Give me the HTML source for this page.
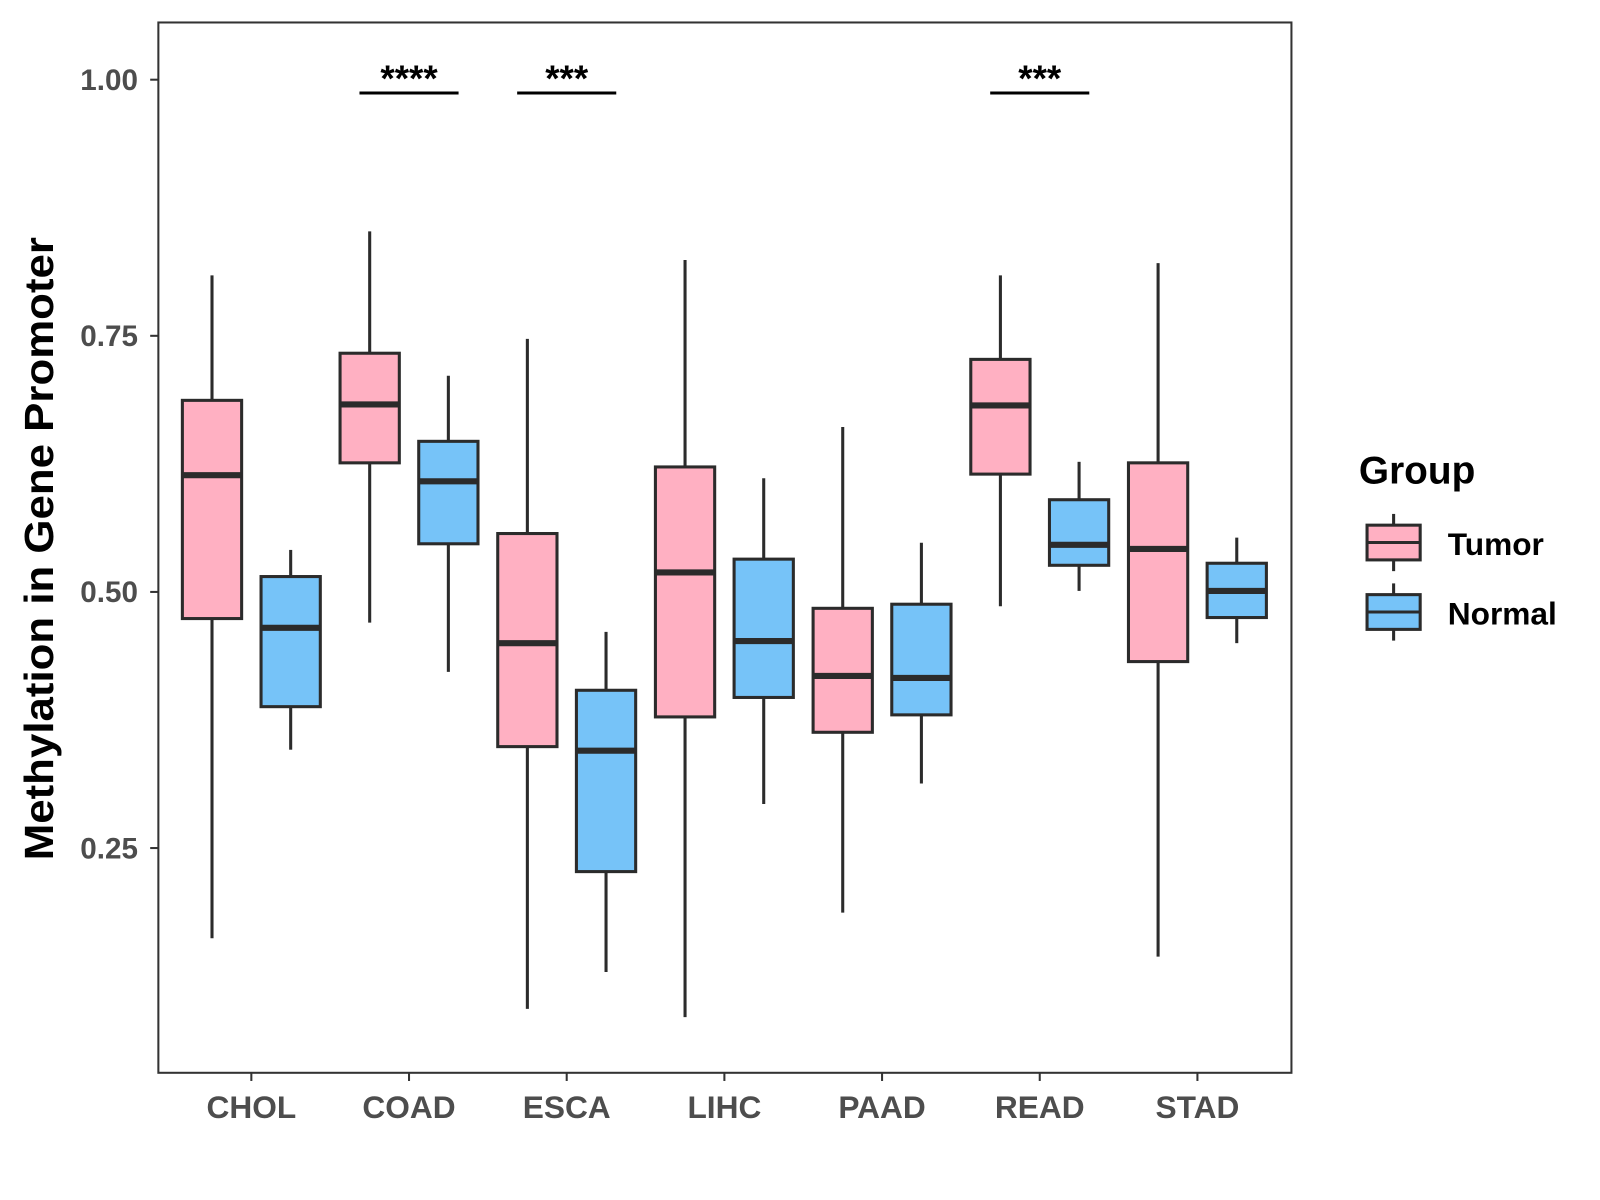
<!DOCTYPE html>
<html><head><meta charset="utf-8">
<style>
body{margin:0;background:#fff;}
svg{display:block;font-family:"Liberation Sans",sans-serif;}
</style></head>
<body>
<svg id="chart" width="1600" height="1200" viewBox="0 0 1566 1174.5">
<rect x="0" y="0" width="1566" height="1175" fill="#fff"/>
<g id="marks"></g>
<rect x="155" y="22" width="1109" height="1028" fill="none" stroke="#333" stroke-width="2"/>
<g id="axes"></g>
<text x="52" y="537" transform="rotate(-90 52 537)" text-anchor="middle" font-size="40" font-weight="bold" fill="#000" textLength="610" lengthAdjust="spacingAndGlyphs">Methylation in Gene Promoter</text>
<g>
<text x="1330" y="473" font-size="38" font-weight="bold" fill="#000">Group</text>
<g>
<line x1="1364" y1="503" x2="1364" y2="559" stroke="#2b2b2b" stroke-width="3"/>
<rect x="1338" y="514" width="52" height="34" fill="#ffb0c2" stroke="#2b2b2b" stroke-width="3"/>
<line x1="1338" y1="531" x2="1390" y2="531" stroke="#2b2b2b" stroke-width="3"/>
<text x="1417" y="543" font-size="31" font-weight="bold" fill="#000">Tumor</text>
</g>
<g>
<line x1="1364" y1="571" x2="1364" y2="627" stroke="#2b2b2b" stroke-width="3"/>
<rect x="1338" y="582" width="52" height="34" fill="#76c3f8" stroke="#2b2b2b" stroke-width="3"/>
<line x1="1338" y1="599" x2="1390" y2="599" stroke="#2b2b2b" stroke-width="3"/>
<text x="1417" y="611" font-size="31" font-weight="bold" fill="#000">Normal</text>
</g>
</g>
</svg>
<script>
const categories = ["CHOL","COAD","ESCA","LIHC","PAAD","READ","STAD"];
const groups = ["Tumor","Normal"];
// [whiskerLow, Q1, median, Q3, whiskerHigh]
const tumorStats = [
  [0.162,0.474,0.614,0.687,0.809],
  [0.470,0.626,0.683,0.733,0.852],
  [0.093,0.349,0.450,0.557,0.747],
  [0.085,0.378,0.519,0.622,0.824],
  [0.187,0.363,0.418,0.484,0.661],
  [0.486,0.615,0.682,0.727,0.809],
  [0.144,0.432,0.542,0.626,0.821]
];
const normalStats = [
  [0.346,0.388,0.465,0.515,0.541],
  [0.422,0.547,0.608,0.647,0.711],
  [0.129,0.227,0.345,0.404,0.461],
  [0.293,0.397,0.452,0.532,0.611],
  [0.313,0.380,0.416,0.488,0.548],
  [0.501,0.526,0.546,0.590,0.627],
  [0.450,0.475,0.501,0.528,0.553]
];
const yTicks = [0.25,0.50,0.75,1.00];
const yTickLabels = ["0.25","0.50","0.75","1.00"];
const sigCategories = ["COAD","ESCA","READ"];
const sigLabels = ["****","***","***"];
const sigLevel = 0.987;

const NS="http://www.w3.org/2000/svg";
function y(v){return 78+(1-v)*1002.7;}
function xc(i){return 246+i*154.33;}
const colors=["#ffb0c2","#76c3f8"];
const marks=document.getElementById('marks');
const axes=document.getElementById('axes');
function mk(tag,attrs,parent){const e=document.createElementNS(NS,tag);for(const k in attrs)e.setAttribute(k,attrs[k]);parent.appendChild(e);return e;}

[tumorStats,normalStats].forEach((stats,g)=>{
  stats.forEach((s,i)=>{
    const cx=xc(i)+(g===0?-38.5:38.5);
    const grp=mk('g',{},marks);
    
    
    mk('line',{x1:cx,x2:cx,y1:y(s[4]),y2:y(s[3]),stroke:'#2b2b2b','stroke-width':3},grp);
    mk('line',{x1:cx,x2:cx,y1:y(s[1]),y2:y(s[0]),stroke:'#2b2b2b','stroke-width':3},grp);
    mk('rect',{x:cx-29,y:y(s[3]),width:58,height:y(s[1])-y(s[3]),fill:colors[g],stroke:'#2b2b2b','stroke-width':3},grp);
    mk('line',{x1:cx-29,x2:cx+29,y1:y(s[2]),y2:y(s[2]),stroke:'#2b2b2b','stroke-width':6},grp);
  });
});

yTicks.forEach((v,i)=>{
  const t=mk('g',{},axes);
  
  
  mk('line',{x1:147,x2:155,y1:y(v),y2:y(v),stroke:'#333','stroke-width':2},t);
  const tx=mk('text',{x:135,y:y(v)+10,'text-anchor':'end','font-size':29,'font-weight':'bold',fill:'#4d4d4d'},t);
  tx.textContent=yTickLabels[i];
});
categories.forEach((c,i)=>{
  const t=mk('g',{},axes);
  
  
  mk('line',{x1:xc(i),x2:xc(i),y1:1050,y2:1058,stroke:'#333','stroke-width':2},t);
  const tx=mk('text',{x:xc(i),y:1094,'text-anchor':'middle','font-size':31,'font-weight':'bold',fill:'#4d4d4d'},t);
  tx.textContent=c;
});
sigCategories.forEach((c,k)=>{
  const i=categories.indexOf(c);
  const t=mk('g',{},marks);
  
  
  mk('line',{x1:xc(i)-48.5,x2:xc(i)+48.5,y1:y(sigLevel),y2:y(sigLevel),stroke:'#000','stroke-width':3},t);
  const tx=mk('text',{x:xc(i),y:y(sigLevel)-2,'text-anchor':'middle','font-size':36,'font-weight':'bold',fill:'#000'},t);
  tx.textContent=sigLabels[k];
});
</script>
</body></html>
